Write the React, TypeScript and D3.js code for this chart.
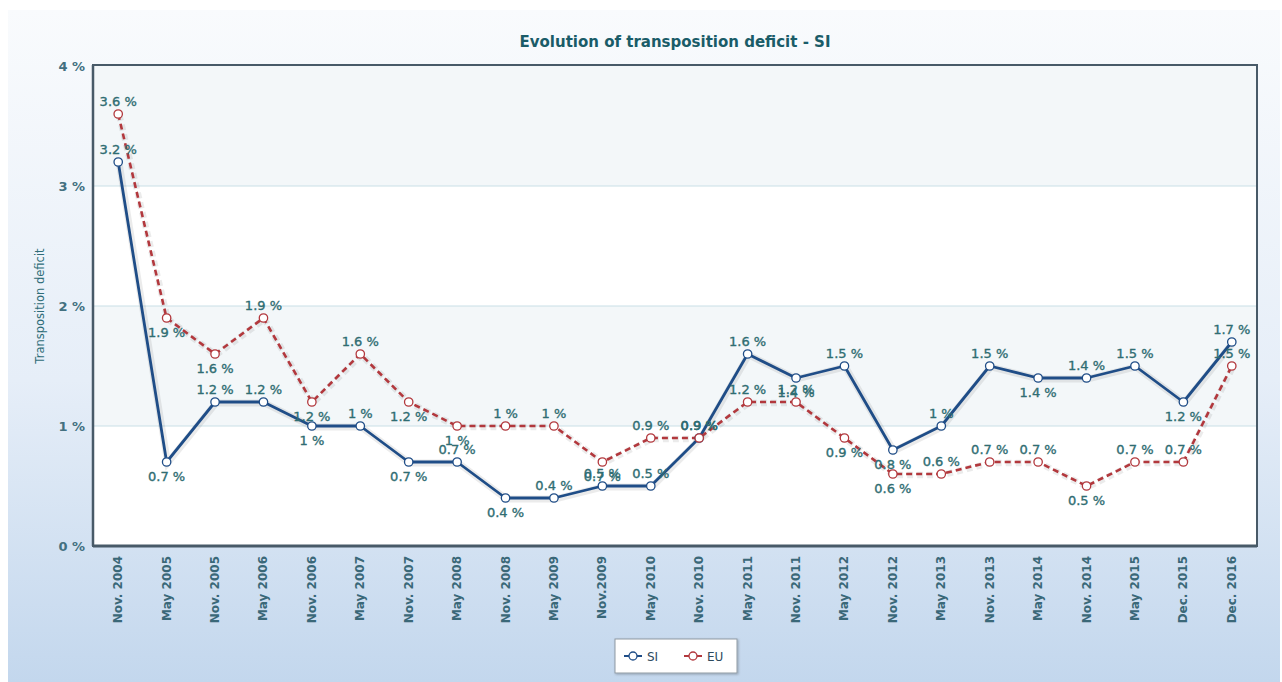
import React from "react";
import * as d3 from "d3";

const categories = [
  "Nov. 2004", "May 2005", "Nov. 2005", "May 2006", "Nov. 2006", "May 2007",
  "Nov. 2007", "May 2008", "Nov. 2008", "May 2009", "Nov.2009", "May 2010",
  "Nov. 2010", "May 2011", "Nov. 2011", "May 2012", "Nov. 2012", "May 2013",
  "Nov. 2013", "May 2014", "Nov. 2014", "May 2015", "Dec. 2015", "Dec. 2016",
];
const siValues = [3.2, 0.7, 1.2, 1.2, 1.0, 1.0, 0.7, 0.7, 0.4, 0.4, 0.5, 0.5, 0.9, 1.6, 1.4, 1.5, 0.8, 1.0, 1.5, 1.4, 1.4, 1.5, 1.2, 1.7];
const euValues = [3.6, 1.9, 1.6, 1.9, 1.2, 1.6, 1.2, 1.0, 1.0, 1.0, 0.7, 0.9, 0.9, 1.2, 1.2, 0.9, 0.6, 0.6, 0.7, 0.7, 0.5, 0.7, 0.7, 1.5];
const yTicks = [0, 1, 2, 3, 4];

const W = 1282, H = 682;
const plot = { left: 93, right: 1257, top: 65, bottom: 546 };
const labelColor = "#2f6d72";
const FONT = "'DejaVu Sans', Verdana, sans-serif";

export default function App() {
  const x = d3.scalePoint<string>().domain(categories).range([plot.left + 1, plot.right - 1]).padding(0.5);
  const y = d3.scaleLinear().domain([0, 4]).range([546, 66]);
  const line = d3.line<number>().x((_, i) => x(categories[i])!).y((v) => y(v));

  const series = [
    { name: "SI", values: siValues, color: "#1f4d87", dash: undefined as string | undefined, width: 2.8 },
    { name: "EU", values: euValues, color: "#b2383d", dash: "6,4", width: 2.6 },
  ];

  const fmt = (v: number) => `${d3.format("~g")(v)} %`;

  return (
    <svg width={W} height={H} style={{ position: "absolute", left: 0, top: 0, fontFamily: FONT }}>
      <defs>
        <linearGradient id="bg" x1="0" y1="0" x2="0" y2="1">
          <stop offset="0" stopColor="#f9fbfd" />
          <stop offset="0.55" stopColor="#e6eef8" />
          <stop offset="1" stopColor="#c3d7ed" />
        </linearGradient>
        <filter id="shadow" x="-10%" y="-10%" width="130%" height="150%">
          <feDropShadow dx="1" dy="1" stdDeviation="1.2" floodColor="#000" floodOpacity="0.25" />
        </filter>
      </defs>
      <rect x={0} y={0} width={W} height={H} fill="#ffffff" />
      <rect x={8} y={10} width={1272} height={H - 10} fill="url(#bg)" />

      {/* plot background bands */}
      {yTicks.slice(0, -1).map((t) => (
        <rect key={"band" + t} x={plot.left} width={plot.right - plot.left}
          y={y(t + 1)} height={y(t) - y(t + 1)} fill={t % 2 === 1 ? "#f3f7f9" : "#ffffff"} />
      ))}
      <rect x={plot.left} y={plot.top} width={plot.right - plot.left} height={y(4) - plot.top} fill="#f3f7f9" />

      {/* gridlines */}
      {yTicks.slice(1, -1).map((t) => (
        <line key={"g" + t} x1={plot.left} x2={plot.right} y1={y(t)} y2={y(t)} stroke="#c9dfe6" strokeWidth={1} />
      ))}

      {/* plot border */}
      <rect x={plot.left} y={plot.top} width={plot.right - plot.left} height={plot.bottom - plot.top}
        fill="none" stroke="#485a68" strokeWidth={2} />
      <line x1={plot.left} x2={plot.right} y1={plot.bottom} y2={plot.bottom} stroke="#485a68" strokeWidth={3} />
      <line x1={plot.left} x2={plot.left} y1={plot.top} y2={plot.bottom} stroke="#485a68" strokeWidth={2.5} />

      {/* title */}
      <text x={675} y={47} textAnchor="middle" fontSize={15} fontWeight="bold" fill="#1a5c68">
        Evolution of transposition deficit - SI
      </text>

      {/* y axis */}
      {yTicks.map((t) => (
        <text key={"yt" + t} x={85} y={y(t) + 5} textAnchor="end" fontSize={13} fontWeight="bold" fill="#437080">
          {`${t} %`}
        </text>
      ))}
      <text transform={`translate(44,${306}) rotate(-90)`} textAnchor="middle" fontSize={11.5} fill="#2f6d78">
        Transposition deficit
      </text>

      {/* x axis labels */}
      {categories.map((c) => (
        <text key={"xl" + c} transform={`translate(${x(c)! + 4},556) rotate(-90)`} textAnchor="end"
          fontSize={12} fontWeight="bold" fill="#3a6878">
          {c}
        </text>
      ))}

      {/* lines */}
      {series.map((s) => (
        <g key={s.name}>
          <path d={line(s.values)!} fill="none" stroke="#000" strokeOpacity={0.08} strokeWidth={s.width + 4}
            strokeDasharray={s.dash} transform="translate(1,1)" />
          <path d={line(s.values)!} fill="none" stroke={s.color} strokeWidth={s.width} strokeDasharray={s.dash}
            strokeLinejoin="round" />
        </g>
      ))}
      {series.map((s) => (
        <g key={s.name + "m"}>
          {s.values.map((v, i) => (
            <circle key={i} cx={x(categories[i])} cy={y(v)} r={4.2} fill="#ffffff" stroke={s.color} strokeWidth={1.3} />
          ))}
        </g>
      ))}

      {/* data labels: below when the value fell since the previous point */}
      {series.map((s) => (
        <g key={s.name + "l"}>
          {s.values.map((v, i) => {
            const below = i > 0 && v < s.values[i - 1];
            return (
              <text key={i} x={x(categories[i])} y={y(v) + (below ? 19 : -8)} textAnchor="middle"
                fontSize={13} fill={labelColor} stroke={labelColor} strokeWidth={0.35}>
                {fmt(v)}
              </text>
            );
          })}
        </g>
      ))}

      {/* legend */}
      <g filter="url(#shadow)">
        <rect x={615} y={639} width={122} height={34} fill="#ffffff" stroke="#8f9aa3" strokeWidth={1} />
      </g>
      <line x1={624} x2={642} y1={656} y2={656} stroke="#1f4d87" strokeWidth={2} />
      <circle cx={633} cy={656} r={4} fill="#fff" stroke="#1f4d87" strokeWidth={1.3} />
      <text x={647} y={660.5} fontSize={12} fill="#2d4a5e">SI</text>
      <line x1={684} x2={702} y1={656} y2={656} stroke="#b2383d" strokeWidth={2} />
      <circle cx={693} cy={656} r={4} fill="#fff" stroke="#b2383d" strokeWidth={1.3} />
      <text x={707} y={660.5} fontSize={12} fill="#2d4a5e">EU</text>
    </svg>
  );
}
